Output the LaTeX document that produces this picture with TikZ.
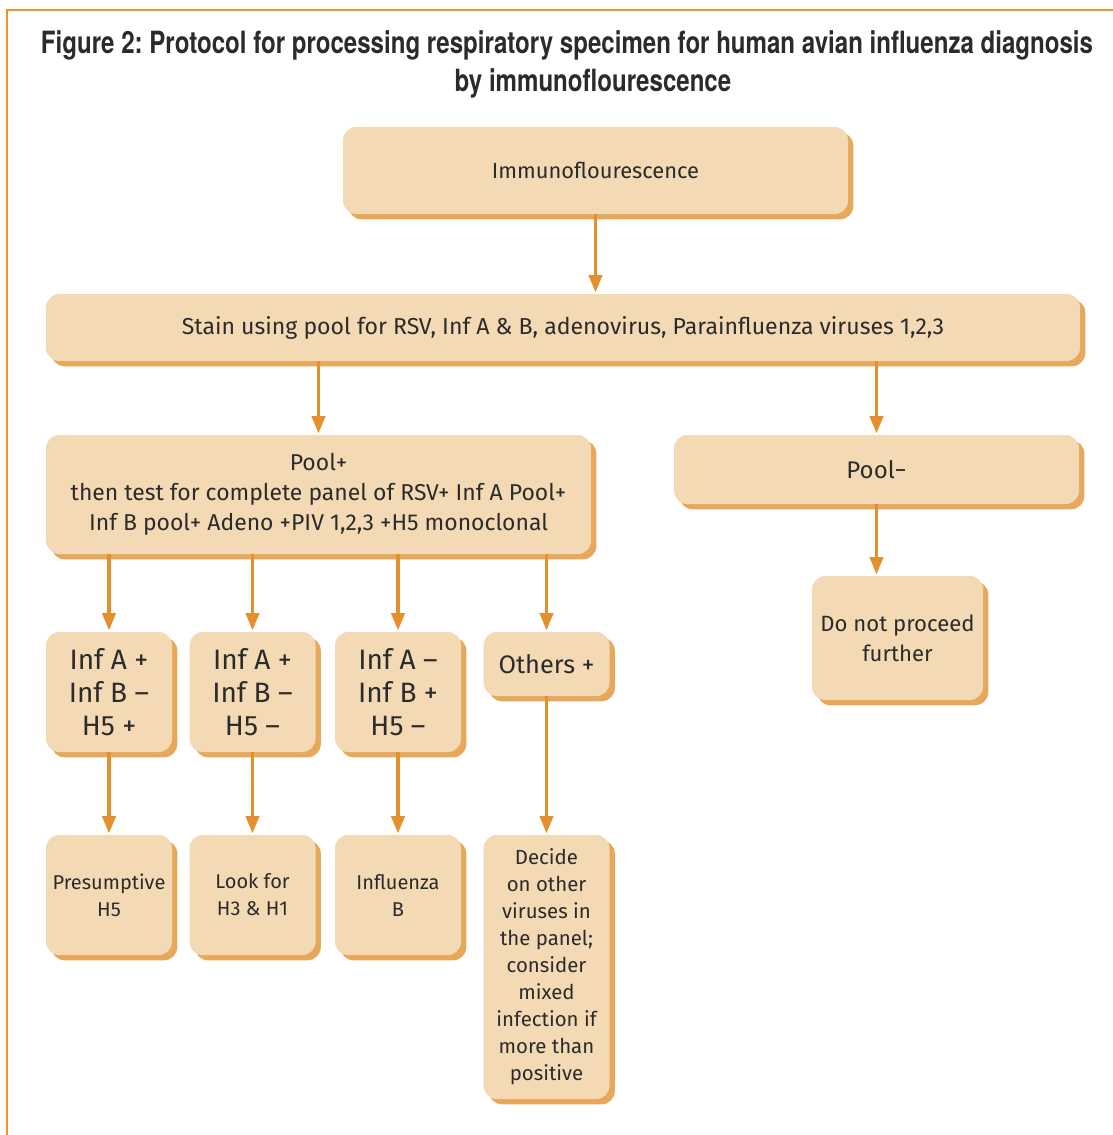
\documentclass[tikz,border=0pt]{standalone}
\usepackage{fontspec}
\setmainfont{Fira Sans}
\newfontfamily\titlefont[FakeStretch=0.785]{TeX Gyre Heros}
\usetikzlibrary{arrows.meta,shadows}

\definecolor{boxfill}{HTML}{F3DAB4}
\definecolor{boxshadow}{HTML}{E7A85C}
\definecolor{arrowc}{HTML}{E3902F}
\definecolor{framec}{HTML}{E8962E}
\definecolor{ink}{HTML}{2B2B2B}

\tikzset{
  box/.style={fill=boxfill, rounded corners=10pt, inner sep=0pt, align=center, text=ink,
    drop shadow={shadow xshift=4pt, shadow yshift=-4pt, fill=boxshadow, opacity=1}},
  flow/.style={draw=arrowc, line width=2.4pt, -{Triangle[width=10pt,length=13pt]}, shorten >=1pt},
  title/.style={font=\titlefont\bfseries\frenchspacing\fontsize{23}{27}\selectfont, text=ink},
}

\begin{document}
\begin{tikzpicture}[x=0.75pt, y=-0.75pt]
  \useasboundingbox (0,0) rectangle (1113,1135);
  \draw[framec, line width=2.2pt] (7,1135) -- (7,10) -- (1113,10);

  \node[title] (title) at (567,45) {Figure 2: Protocol for processing respiratory specimen for human avian influenza diagnosis};
  \node[title] (title2) at (593,83) {by immunoflourescence};

  % top of the tree
  \node[box, minimum width=378.75pt, minimum height=65.25pt, font=\fontsize{16.4}{20}\selectfont]
    (immuno) at (595.5,170.5) {Immunoflourescence};
  \node[box, minimum width=775.5pt, minimum height=50.25pt, font=\fontsize{17.3}{20}\selectfont]
    (stain) at (563,327.5) {Stain using pool for RSV, Inf A \& B, adenovirus, Parainfluenza viruses 1,2,3};

  \node[box, minimum width=408.75pt, minimum height=89.25pt, font=\fontsize{17.2}{22.5}\selectfont]
    (poolp) at (318.5,494.5) {Pool+\\then test for complete panel of RSV+ Inf A Pool+\\Inf B pool+ Adeno +PIV 1,2,3 +H5 monoclonal};
  \node[box, minimum width=303.75pt, minimum height=51.75pt, font=\fontsize{18}{20}\selectfont]
    (pooln) at (876.5,469.5) {Pool−};

  % results of the panel
  \node[box, minimum width=94.5pt, minimum height=90pt, font=\fontsize{21}{24.75}\selectfont]
    (r1) at (109,692) {Inf A +\\Inf B –\\H5 +};
  \node[box, minimum width=94.5pt, minimum height=90pt, font=\fontsize{21}{24.75}\selectfont]
    (r2) at (252.5,692) {Inf A +\\Inf B –\\H5 –};
  \node[box, minimum width=94.5pt, minimum height=90pt, font=\fontsize{21}{24.75}\selectfont]
    (r3) at (398,692) {Inf A –\\Inf B +\\H5 –};
  \node[box, minimum width=94.5pt, minimum height=48pt, font=\fontsize{19}{24.75}\selectfont]
    (r4) at (546.5,664) {Others +};
  \node[box, minimum width=128.25pt, minimum height=93pt, font=\fontsize{16.6}{22.5}\selectfont]
    (stop) at (897.5,638) {Do not proceed\\further};

  % what to do next
  \node[box, minimum width=94.5pt, minimum height=90pt, font=\fontsize{15}{20.25}\selectfont]
    (d1) at (109,895) {Presumptive\\H5};
  \node[box, minimum width=94.5pt, minimum height=90pt, font=\fontsize{15}{20.25}\selectfont]
    (d2) at (252.5,895) {Look for\\H3 \& H1};
  \node[box, minimum width=94.5pt, minimum height=90pt, font=\fontsize{15}{20.25}\selectfont]
    (d3) at (398,895) {Influenza\\B};
  \node[box, minimum width=94.5pt, minimum height=198pt, font=\fontsize{15.3}{20.25}\selectfont]
    (d4) at (546.5,967) {Decide\\on other\\viruses in\\the panel;\\consider\\mixed\\infection if\\more than\\positive};

  \draw[flow] (immuno) -- (immuno |- stain.north);
  \draw[flow] (stain.south -| poolp) -- (poolp);
  \draw[flow] (stain.south -| pooln) -- (pooln);
  \draw[flow] (pooln) -- (pooln |- stop.north);
  \foreach \r in {r1,r2,r3,r4}
    \draw[flow] (poolp.south -| \r) -- (\r);
  \draw[flow] (r1) -- (d1);
  \draw[flow] (r2) -- (d2);
  \draw[flow] (r3) -- (d3);
  \draw[flow] (r4) -- (d4);
\end{tikzpicture}
\end{document}
